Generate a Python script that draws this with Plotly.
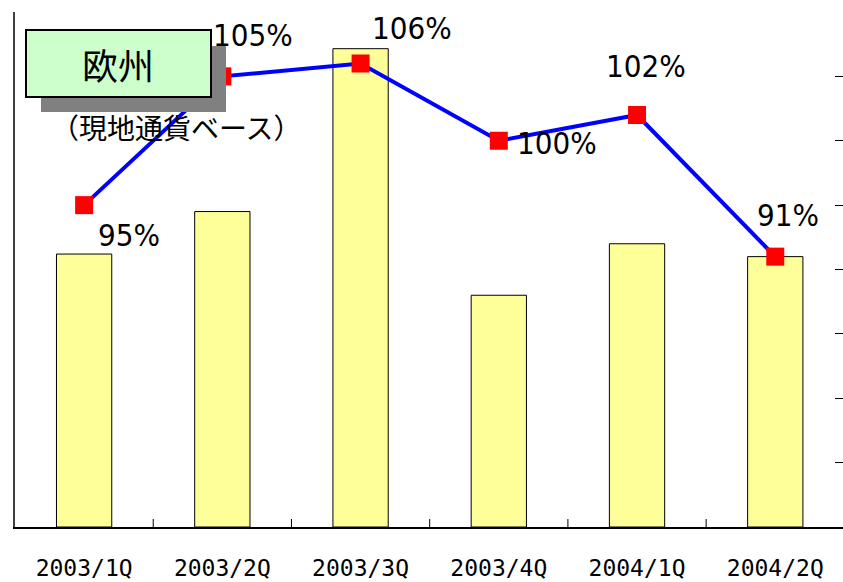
import plotly.graph_objects as go

categories = ["2003/1Q", "2003/2Q", "2003/3Q", "2003/4Q", "2004/1Q", "2004/2Q"]
bar_values = [4.24, 4.90, 7.43, 3.60, 4.40, 4.20]
ratio_values = [95, 105, 106, 100, 102, 91]
ratio_labels = ["95%", "105%", "106%", "100%", "102%", "91%"]
label_shifts = [(45, -30), (31, 41), (51, 36), (58, -2), (9, 49), (13, 42)]

FONT = "Noto Sans CJK JP"
NUMFONT = "DejaVu Sans Condensed, Roboto"
TICKFONT = "DejaVu Sans Mono"
W, H = 843, 582
L, R, T, B = 15, 0, 12, 55
pw, ph = W - L - R, H - T - B

def px(x):
    return (x - L) / pw

def py(y):
    return (H - B - y) / ph

xs = list(range(len(categories)))

fig = go.Figure()
fig.add_trace(go.Bar(
    x=xs, y=bar_values, width=0.4,
    marker=dict(color="#FFFF99", line=dict(color="black", width=1)),
    yaxis="y", showlegend=False, hoverinfo="skip",
))
fig.add_trace(go.Scatter(
    x=xs, y=ratio_values, yaxis="y2", mode="lines+markers",
    line=dict(color="#0000FF", width=4),
    marker=dict(symbol="square", size=18, color="#FF0000"),
    showlegend=False, hoverinfo="skip",
))

annotations = []
for xi, v, lab, (dx, dy) in zip(xs, ratio_values, ratio_labels, label_shifts):
    annotations.append(dict(
        x=xi, y=v, xref="x", yref="y2", text=lab, showarrow=False,
        xanchor="center", yanchor="middle",
        xshift=dx, yshift=dy, font=dict(family=NUMFONT, size=31, color="black"),
    ))

annotations.append(dict(
    x=px(118), y=py(64), xref="paper", yref="paper", text="欧州",
    xanchor="center", yanchor="middle",
    showarrow=False, font=dict(family=FONT, size=36, color="black"),
))
annotations.append(dict(
    x=px(176), y=py(127), xref="paper", yref="paper", text="（現地通貨ベース）",
    xanchor="center", yanchor="middle",
    showarrow=False, font=dict(family=FONT, size=28, color="black"),
))

shapes = [
    dict(type="rect", xref="paper", yref="paper", x0=px(41), x1=px(226),
         y0=py(112), y1=py(46), fillcolor="#808080", line=dict(width=0), layer="above"),
    dict(type="rect", xref="paper", yref="paper", x0=px(26), x1=px(211),
         y0=py(97), y1=py(30), fillcolor="#CCFFCC", line=dict(color="black", width=2), layer="above"),
]

fig.update_layout(
    width=W, height=H,
    margin=dict(l=L, r=R, t=T, b=B, pad=0, autoexpand=False),
    paper_bgcolor="white", plot_bgcolor="white",
    xaxis=dict(
        tickmode="array", tickvals=xs, ticktext=categories,
        range=[-0.5, 5.49], showgrid=False, zeroline=False,
        showline=True, linecolor="black", linewidth=2,
        ticks="", tickfont=dict(family=TICKFONT, size=23, color="black"),
        ticklabelstandoff=19, automargin=False,
    ),
    yaxis=dict(
        range=[0, 8], showgrid=False, zeroline=False, showticklabels=False,
        showline=True, linecolor="#404040", linewidth=2, ticks="", automargin=False,
    ),
    yaxis2=dict(
        range=[70, 110], dtick=5, tick0=70, overlaying="y", side="right",
        showgrid=False, zeroline=False, showticklabels=False,
        showline=False, ticks="inside", ticklen=8, tickcolor="black", tickwidth=1,
        automargin=False,
    ),
    annotations=annotations,
    shapes=shapes,
)

# category boundary ticks on the x axis (pointing up)
for b in [0.5, 1.5, 2.5, 3.5, 4.5]:
    fig.add_shape(type="line", xref="x", yref="paper", x0=b, x1=b,
                  y0=0, y1=8 / ph, line=dict(color="black", width=1))

fig.write_html(
    "out.html",
    config={"displayModeBar": False},
    post_script="document.body.style.margin='0';document.body.style.overflow='hidden';",
)
